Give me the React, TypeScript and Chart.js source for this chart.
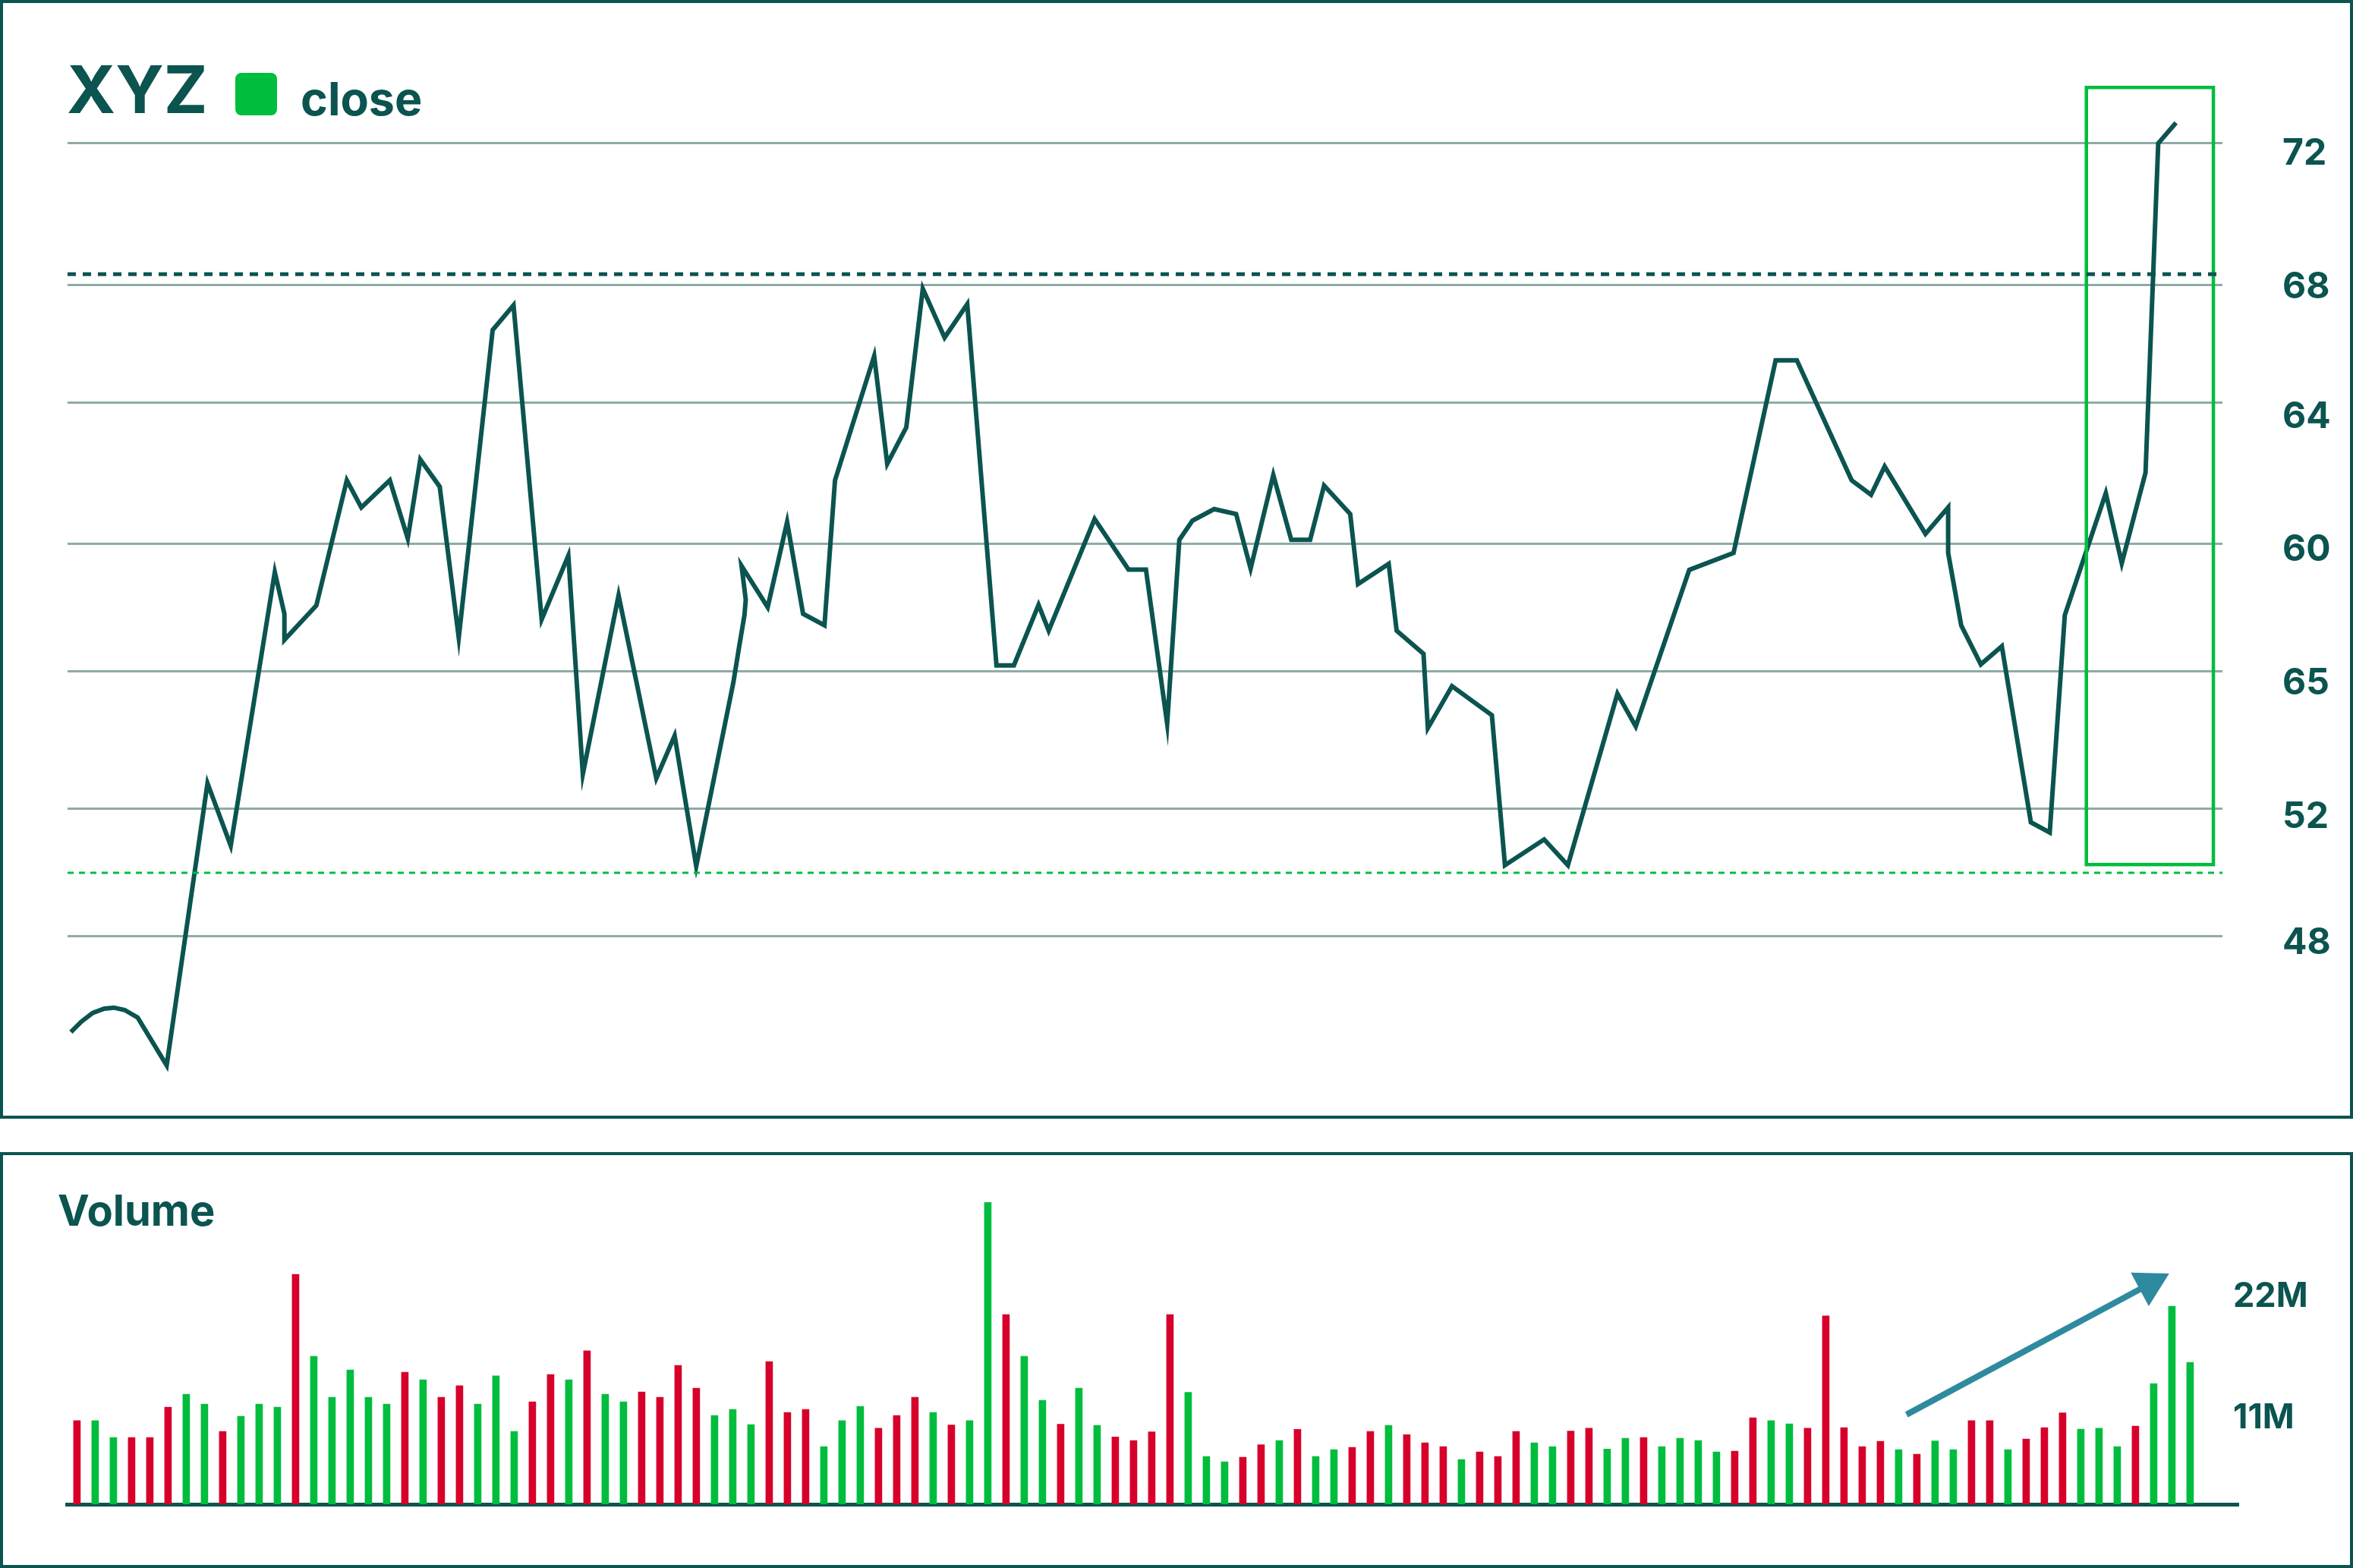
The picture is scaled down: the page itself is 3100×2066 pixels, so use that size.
import { useEffect, useRef } from "react";
import { Chart, registerables } from "chart.js";

Chart.register(...registerables);

const DARK = "#0b5450";
const GRID = "#8eaba7";
const GREEN = "#00bd3e";
const RED = "#d6002b";
const ARROW = "#2e8a9f";
const FONT = "Inter";

// ---- price panel data ----
const closeDay = [
  0, 0.56, 1.2, 1.84, 2.37, 2.96, 3.68, 5.28, 7.53, 8.81, 11.24, 11.77, 11.77, 13.53, 15.21, 16.01,
  17.58, 18.57, 19.26, 20.33, 21.38, 23.25, 24.4, 25.95, 27.42, 28.22, 30.19, 32.27, 33.28, 34.47,
  36.52, 36.84, 37.13, 37.2, 36.97, 38.41, 39.48, 40.36, 41.54, 42.12, 44.28, 45.0, 46.05, 46.96,
  48.16, 49.41, 51.02, 51.98, 53.34, 53.9, 56.43, 58.3, 59.26, 60.43, 61.1, 61.82, 63.02, 64.23,
  65.03, 66.28, 67.27, 68.31, 69.08, 70.52, 70.95, 72.64, 73.08, 74.56, 74.8, 76.13, 78.33, 79.05,
  81.21, 82.52, 85.25, 86.26, 89.21, 91.65, 93.97, 95.14, 98.16, 99.23, 99.98, 102.23, 103.48,
  103.48, 104.2, 105.28, 106.44, 108.04, 109.08, 109.91, 112.17, 113.05, 114.36, 115.06, 116.04,
];
const closePrice = [
  45.1, 45.41, 45.68, 45.81, 45.84, 45.77, 45.54, 44.09, 52.63, 50.74, 59.02, 57.76, 56.97, 58.01,
  61.8, 60.98, 61.8, 60.04, 62.43, 61.61, 57.04, 66.35, 67.1, 57.59, 59.52, 52.91, 58.32, 52.78,
  54.07, 50.12, 55.69, 56.78, 57.72, 58.19, 59.21, 57.96, 60.54, 57.76, 57.41, 61.8, 65.56, 62.3,
  63.4, 67.6, 66.12, 67.13, 56.2, 56.2, 58.03, 57.25, 60.63, 59.1, 59.1, 54.43, 60.0, 60.58, 60.93,
  60.78, 59.13, 61.96, 60.0, 60.0, 61.64, 60.78, 58.66, 59.27, 57.25, 56.55, 54.3, 55.57, 54.69,
  50.15, 50.93, 50.15, 55.34, 54.35, 59.09, 59.6, 65.43, 65.43, 61.8, 61.36, 62.22, 60.18, 60.98,
  59.6, 57.41, 56.23, 56.78, 51.45, 51.14, 57.72, 61.41, 59.29, 62.03, 72.0, 72.62,
];
const dayRange = [-0.184, 118.6];
const priceRange = [43.26, 74.04];
const priceGridValues = [72, 67.72, 64.15, 59.885, 56.03, 51.86, 48];
const priceLabelValues = [71.754, 67.7, 63.79, 59.763, 55.73, 51.68, 47.86];
const priceTickLabels = ["72", "68", "64", "60", "65", "52", "48"];
const resistanceLevel = 68.04;
const supportLevel = 49.92;
const highlightDays = [111.1, 118.1];
const highlightPrices = [50.17, 73.69];

// ---- volume panel data (millions) ----
const volume = [
  9.58, 9.57, 7.65, 7.65, 7.65, 11.13, 12.61, 11.48, 8.35, 10.09,
  11.48, 11.13, 26.35, 16.96, 12.26, 15.39, 12.26, 11.48, 15.13, 14.26,
  12.26, 13.57, 11.48, 14.7, 8.35, 11.74, 14.87, 14.26, 17.57, 12.61,
  11.74, 12.87, 12.26, 15.91, 13.3, 10.17, 10.87, 9.13, 16.35, 10.52,
  10.87, 6.61, 9.57, 11.22, 8.7, 10.17, 12.26, 10.52, 9.09, 9.57,
  34.57, 21.74, 16.96, 11.91, 9.17, 13.3, 9.04, 7.7, 7.3, 8.3,
  21.74, 12.82, 5.48, 4.87, 5.39, 6.83, 7.3, 8.58, 5.48, 6.26,
  6.52, 8.35, 9.04, 7.98, 7.04, 6.61, 5.13, 6.0, 5.48, 8.35,
  7.04, 6.61, 8.39, 8.7, 6.32, 7.55, 7.65, 6.61, 7.55, 7.3,
  6.0, 6.07, 9.91, 9.57, 9.22, 8.7, 21.57, 8.78, 6.61, 7.22,
  6.26, 5.74, 7.26, 6.26, 9.57, 9.57, 6.26, 7.48, 8.78, 10.47,
  8.61, 8.7, 6.61, 8.96, 13.83, 22.68, 16.26,
];
const volumeUp = [
  0, 1, 1, 0, 0, 0, 1, 1, 0, 1,
  1, 1, 0, 1, 1, 1, 1, 1, 0, 1,
  0, 0, 1, 1, 1, 0, 0, 1, 0, 1,
  1, 0, 0, 0, 0, 1, 1, 1, 0, 0,
  0, 1, 1, 1, 0, 0, 0, 1, 0, 1,
  1, 0, 1, 1, 0, 1, 1, 0, 0, 0,
  0, 1, 1, 1, 0, 0, 1, 0, 1, 1,
  0, 0, 1, 0, 0, 0, 1, 0, 0, 0,
  1, 1, 0, 0, 1, 1, 0, 1, 1, 1,
  1, 0, 0, 1, 1, 0, 0, 0, 0, 0,
  1, 0, 1, 1, 0, 0, 1, 0, 0, 0,
  1, 1, 1, 0, 1, 1, 1,
];
const indexRange = [-0.5375, 118.358];
const volumeRange = [0, 36];
const volumeTickValues = [24.02, 10.17];
const volumeTickLabels = ["22M", "11M"];
const arrowFrom = [100.43, 10.27];
const arrowTo = [114.85, 26.43];

const headerPlugin = {
  id: "header",
  afterDraw(chart: any) {
    const ctx = chart.ctx;
    ctx.save();
    ctx.textBaseline = "alphabetic";
    ctx.textAlign = "left";
    ctx.fillStyle = DARK;
    ctx.font = `700 87px ${FONT}`;
    ctx.fillText("XYZ", 88, 149);
    ctx.fillStyle = GREEN;
    ctx.beginPath();
    if (ctx.roundRect) ctx.roundRect(310, 96, 55, 56, 8);
    else ctx.rect(310, 96, 55, 56);
    ctx.fill();
    ctx.fillStyle = DARK;
    ctx.font = `700 61px ${FONT}`;
    ctx.fillText(chart.data.datasets[0].label, 396, 152);
    ctx.restore();
  },
};

const levelsPlugin = {
  id: "levels",
  afterDatasetsDraw(chart: any) {
    const { ctx, chartArea, scales } = chart;
    const x = scales.x;
    const y = scales.y;
    ctx.save();
    const bx0 = x.getPixelForValue(highlightDays[0]);
    const bx1 = x.getPixelForValue(highlightDays[1]);
    const by0 = y.getPixelForValue(highlightPrices[1]);
    const by1 = y.getPixelForValue(highlightPrices[0]);
    ctx.strokeStyle = GREEN;
    ctx.lineWidth = 4.5;
    ctx.strokeRect(bx0, by0, bx1 - bx0, by1 - by0);
    ctx.setLineDash([11, 9]);
    ctx.lineWidth = 5;
    ctx.strokeStyle = DARK;
    const ry = y.getPixelForValue(resistanceLevel);
    ctx.beginPath();
    ctx.moveTo(chartArea.left, ry);
    ctx.lineTo(chartArea.right, ry);
    ctx.stroke();
    ctx.setLineDash([8, 7]);
    ctx.lineWidth = 3;
    ctx.strokeStyle = GREEN;
    const sy = y.getPixelForValue(supportLevel);
    ctx.beginPath();
    ctx.moveTo(chartArea.left, sy);
    ctx.lineTo(chartArea.right, sy);
    ctx.stroke();
    ctx.restore();
  },
};

const volumePlugin = {
  id: "volumeDecor",
  afterDatasetsDraw(chart: any) {
    const { ctx, scales } = chart;
    const x = scales.x;
    const y = scales.y;
    const tx = x.getPixelForValue(arrowFrom[0]);
    const ty = y.getPixelForValue(arrowFrom[1]);
    const hx = x.getPixelForValue(arrowTo[0]);
    const hy = y.getPixelForValue(arrowTo[1]);
    const ang = Math.atan2(hy - ty, hx - tx);
    const headLen = 44;
    const headHalf = 25;
    const cx = hx - headLen * Math.cos(ang);
    const cy = hy - headLen * Math.sin(ang);
    ctx.save();
    ctx.strokeStyle = ARROW;
    ctx.fillStyle = ARROW;
    ctx.lineWidth = 8;
    ctx.lineCap = "butt";
    ctx.beginPath();
    ctx.moveTo(tx, ty);
    ctx.lineTo(cx + 6 * Math.cos(ang), cy + 6 * Math.sin(ang));
    ctx.stroke();
    ctx.beginPath();
    ctx.moveTo(hx, hy);
    ctx.lineTo(cx - headHalf * Math.sin(ang), cy + headHalf * Math.cos(ang));
    ctx.lineTo(cx + headHalf * Math.sin(ang), cy - headHalf * Math.cos(ang));
    ctx.closePath();
    ctx.fill();
    ctx.restore();
  },
  afterDraw(chart: any) {
    const ctx = chart.ctx;
    ctx.save();
    ctx.fillStyle = DARK;
    ctx.textBaseline = "alphabetic";
    ctx.textAlign = "left";
    ctx.font = `700 56px ${FONT}`;
    ctx.fillText("Volume", 76, 97);
    ctx.restore();
  },
};

export default function App() {
  const topRef = useRef<HTMLCanvasElement>(null);
  const volRef = useRef<HTMLCanvasElement>(null);

  useEffect(() => {
    Chart.defaults.font.family = FONT;
    const priceChart = new Chart(topRef.current as HTMLCanvasElement, {
      type: "line",
      data: {
        datasets: [
          {
            label: "close",
            data: closeDay.map((d, i) => ({ x: d, y: closePrice[i] })),
            borderColor: DARK,
            borderWidth: 6,
            pointRadius: 0,
            tension: 0,
            borderJoinStyle: "miter",
            fill: false,
          },
        ],
      },
      options: {
        responsive: false,
        animation: false,
        devicePixelRatio: 1,
        events: [],
        layout: { padding: { left: 89, top: 100, bottom: 34, right: 0 } },
        plugins: {
          legend: { display: false },
          title: { display: false },
          tooltip: { enabled: false },
        },
        scales: {
          x: { type: "linear", display: false, min: dayRange[0], max: dayRange[1] },
          y: {
            type: "linear",
            position: "right",
            min: priceRange[0],
            max: priceRange[1],
            weight: 0,
            grid: { color: GRID, lineWidth: 3, drawTicks: false },
            border: { display: false },
            ticks: { display: false, padding: 0 },
            afterBuildTicks: (s: any) => {
              s.ticks = priceGridValues.map((v) => ({ value: v }));
            },
            afterFit: (s: any) => {
              s.width = 79;
            },
          },
          y2: {
            type: "linear",
            position: "right",
            min: priceRange[0],
            max: priceRange[1],
            weight: 1,
            grid: { display: false, drawTicks: false },
            border: { display: false },
            ticks: {
              padding: 0,
              color: DARK,
              autoSkip: false,
              labelOffset: 3,
              font: { family: FONT, size: 48, weight: "bold" },
              callback: (_v: any, i: number) => priceTickLabels[i],
            },
            afterBuildTicks: (s: any) => {
              s.ticks = priceLabelValues.map((v) => ({ value: v }));
            },
            afterFit: (s: any) => {
              s.width = 93;
            },
          },
        },
      } as any,
      plugins: [headerPlugin, levelsPlugin],
    });

    const volumeChart = new Chart(volRef.current as HTMLCanvasElement, {
      type: "bar",
      data: {
        datasets: [
          {
            label: "volume",
            data: volume.map((v, i) => ({ x: i, y: v })),
            backgroundColor: volumeUp.map((u) => (u ? GREEN : RED)),
            barThickness: 9,
            borderWidth: 0,
          },
        ],
      },
      options: {
        responsive: false,
        animation: false,
        devicePixelRatio: 1,
        events: [],
        layout: { padding: { left: 88.5, top: 50, bottom: 84, right: 0 } },
        plugins: {
          legend: { display: false },
          title: { display: false },
          tooltip: { enabled: false },
        },
        scales: {
          x: {
            type: "linear",
            min: indexRange[0],
            max: indexRange[1],
            offset: false,
            z: 1,
            grid: { display: false, drawTicks: false, lineWidth: 16 },
            ticks: { display: false },
            border: { display: true, color: DARK, width: 5 },
            afterFit: (s: any) => {
              s.height = 0;
            },
          },
          y: {
            type: "linear",
            position: "right",
            min: volumeRange[0],
            max: volumeRange[1],
            grid: { display: false, drawTicks: false },
            border: { display: false },
            ticks: {
              padding: 0,
              color: DARK,
              autoSkip: false,
              labelOffset: 3,
              font: { family: FONT, size: 45, weight: "bold" },
              callback: (_v: any, i: number) => volumeTickLabels[i],
            },
            afterBuildTicks: (s: any) => {
              s.ticks = volumeTickValues.map((v) => ({ value: v }));
            },
            afterFit: (s: any) => {
              s.width = 158;
            },
          },
        },
      } as any,
      plugins: [volumePlugin],
    });

    return () => {
      priceChart.destroy();
      volumeChart.destroy();
    };
  }, []);

  return (
    <div style={{ position: "absolute", left: 0, top: 0, width: 3100, height: 2066, background: "#ffffff" }}>
      <div
        style={{
          position: "absolute",
          left: 0,
          top: 0,
          width: 3100,
          height: 1474,
          border: `4px solid ${DARK}`,
          boxSizing: "border-box",
        }}
      />
      <canvas
        ref={topRef}
        width={3100}
        height={1474}
        style={{ position: "absolute", left: 0, top: 0, width: 3100, height: 1474 }}
      />
      <div
        style={{
          position: "absolute",
          left: 0,
          top: 1518,
          width: 3100,
          height: 548,
          border: `4px solid ${DARK}`,
          boxSizing: "border-box",
        }}
      />
      <canvas
        ref={volRef}
        width={3100}
        height={548}
        style={{ position: "absolute", left: 0, top: 1518, width: 3100, height: 548 }}
      />
    </div>
  );
}
